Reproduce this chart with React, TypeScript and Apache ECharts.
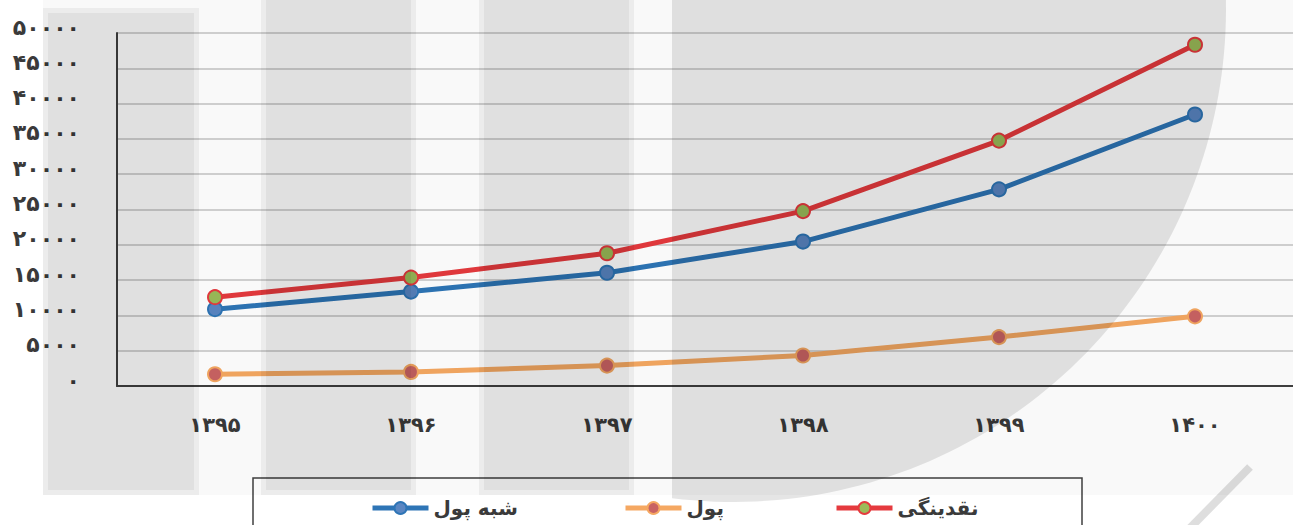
import React, { useEffect, useRef } from 'react';
import * as echarts from 'echarts';

// ---- data ----
const categories = ['۱۳۹۵', '۱۳۹۶', '۱۳۹۷', '۱۳۹۸', '۱۳۹۹', '۱۴۰۰'];
const quasiMoney = [10880, 13370, 16040, 20460, 27860, 38460]; // شبه پول
const money = [1660, 1990, 2890, 4320, 6930, 9870]; // پول
const liquidity = [12580, 15360, 18800, 24770, 34760, 48330]; // نقدینگی
const seriesNames = ['شبه پول', 'پول', 'نقدینگی'];
const persianDigits = ['۰', '۱', '۲', '۳', '۴', '۵', '۶', '۷', '۸', '۹'];
const yMin = 0;
const yMax = 50000;
const yInterval = 5000;

const toFa = (v: number) => String(v).replace(/\d/g, (d) => persianDigits[Number(d)]);

const FONT = '"DejaVu Sans", sans-serif';

// watermark arc outline (decoration only)
function arcPolygon(cx: number, cy: number, r: number, xMin: number) {
  const a0 = -Math.asin(cy / r);
  const a1 = Math.acos((xMin - cx) / r);
  const pts: number[][] = [[xMin, 0]];
  const n = 80;
  for (let i = 0; i <= n; i++) {
    const a = a0 + ((a1 - a0) * i) / n;
    pts.push([cx + r * Math.cos(a), cy + r * Math.sin(a)]);
  }
  return pts;
}

export default function App() {
  const ref = useRef<HTMLDivElement>(null);
  useEffect(() => {
    if (!ref.current) return;
    const chart = echarts.init(ref.current, null, { renderer: 'svg' });
    const shade = 'rgba(0,0,0,0.10)';
    const edge = 'rgba(0,0,0,0.05)';
    const legendText = { fontSize: 20, fontWeight: 'bold' as const, color: '#3a3a3a', fontFamily: FONT };
    const legendCommon = {
      top: 493,
      itemWidth: 56,
      itemHeight: 15,
      textStyle: legendText,
      lineStyle: { width: 5 },
    };
    chart.setOption({
      animation: false,
      backgroundColor: '#ffffff',
      grid: { left: 117, right: 0, top: 33, bottom: 139, containLabel: false },
      xAxis: {
        type: 'category',
        data: categories,
        boundaryGap: true,
        axisLine: { show: true, lineStyle: { color: '#404040', width: 2 } },
        axisTick: { show: false },
        axisLabel: { margin: 28, fontSize: 21, fontWeight: 'bold', color: '#3a3a3a', fontFamily: FONT },
        splitLine: { show: false },
      },
      yAxis: {
        type: 'value',
        min: yMin,
        max: yMax,
        interval: yInterval,
        axisLine: { show: true, lineStyle: { color: '#404040', width: 2 } },
        axisTick: { show: false },
        axisLabel: {
          margin: 37,
          fontSize: 22,
          fontWeight: 'bold',
          color: '#3a3a3a',
          fontFamily: FONT,
          verticalAlign: 'bottom',
          lineHeight: 12,
          formatter: (v: number) => toFa(v),
        },
        splitLine: { show: true, lineStyle: { color: '#c4c4c4', width: 1.5 } },
      },
      legend: [
        { ...legendCommon, data: [seriesNames[0]], left: 365 },
        { ...legendCommon, data: [seriesNames[1]], left: 618 },
        { ...legendCommon, data: [seriesNames[2]], left: 829 },
      ],
      series: [
        {
          name: seriesNames[0],
          type: 'line',
          data: quasiMoney,
          symbol: 'circle',
          symbolSize: 14,
          lineStyle: { color: '#2e75b6', width: 5 },
          itemStyle: { color: '#5a86c2', borderColor: '#2e75b6', borderWidth: 2 },
          z: 2,
        },
        {
          name: seriesNames[1],
          type: 'line',
          data: money,
          symbol: 'circle',
          symbolSize: 14,
          lineStyle: { color: '#f5a862', width: 5 },
          itemStyle: { color: '#c96363', borderColor: '#f5a862', borderWidth: 2 },
          z: 3,
        },
        {
          name: seriesNames[2],
          type: 'line',
          data: liquidity,
          symbol: 'circle',
          symbolSize: 14,
          lineStyle: { color: '#e53a3e', width: 5 },
          itemStyle: { color: '#9bbb59', borderColor: '#e53a3e', borderWidth: 2 },
          z: 4,
        },
      ],
      graphic: [
        // legend frame
        {
          type: 'rect',
          z: 50,
          silent: true,
          shape: { x: 253, y: 478, width: 829, height: 60 },
          style: { fill: 'none', stroke: '#404040', lineWidth: 1.5 },
        },
        // watermark overlay
        { type: 'rect', z: 100, silent: true, shape: { x: 43, y: 0, width: 1250, height: 495 }, style: { fill: 'rgba(0,0,0,0.022)' } },
        { type: 'rect', z: 100, silent: true, shape: { x: 43, y: 8, width: 156, height: 487 }, style: { fill: edge } },
        { type: 'rect', z: 101, silent: true, shape: { x: 48, y: 13, width: 146, height: 477 }, style: { fill: edge } },
        { type: 'rect', z: 100, silent: true, shape: { x: 261, y: 0, width: 155, height: 495 }, style: { fill: edge } },
        { type: 'rect', z: 101, silent: true, shape: { x: 266, y: 0, width: 145, height: 490 }, style: { fill: edge } },
        { type: 'rect', z: 100, silent: true, shape: { x: 479, y: 0, width: 155, height: 495 }, style: { fill: edge } },
        { type: 'rect', z: 101, silent: true, shape: { x: 484, y: 0, width: 145, height: 490 }, style: { fill: edge } },
        {
          type: 'polygon',
          z: 100,
          silent: true,
          shape: { points: arcPolygon(733, 9, 493, 672) },
          style: { fill: shade },
        },
        {
          type: 'line',
          z: 100,
          silent: true,
          shape: { x1: 1250, y1: 467, x2: 1190, y2: 528 },
          style: { stroke: 'rgba(0,0,0,0.13)', lineWidth: 8 },
        },
      ],
    });
    return () => chart.dispose();
  }, []);
  return (
    <div
      ref={ref}
      style={{ position: 'absolute', left: 0, top: 0, width: 1293, height: 525 }}
    />
  );
}
